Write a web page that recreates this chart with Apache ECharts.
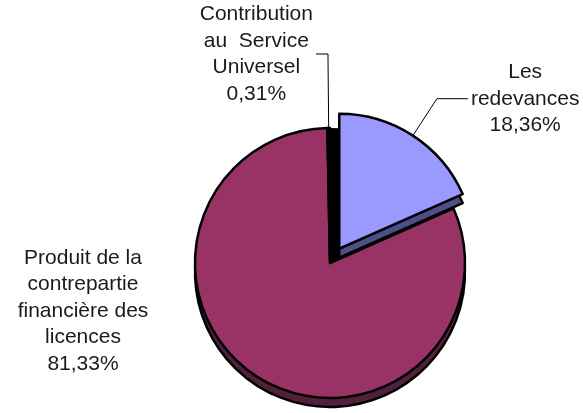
<!DOCTYPE html>
<html>
<head>
<meta charset="utf-8">
<script src="https://cdn.jsdelivr.net/npm/echarts@6/dist/echarts.min.js"></script>
<style>
  html, body { margin: 0; padding: 0; background: #fff; }
  #chart { width: 583px; height: 413px; }
</style>
</head>
<body>
<div id="chart"></div>
<script>
// données du graphique
const names = ['Les\nredevances', 'Produit de la\ncontrepartie\nfinancière des\nlicences', 'Contribution\nau  Service\nUniversel']
const values = [18.36, 81.33, 0.31]
const topColors = ['#9999ff', '#993366', '#000000']
const sideColors = ['#4d5088', '#51203a', '#000000']
const gapColors = ['#000000', 'rgba(0,0,0,0)', 'rgba(0,0,0,0)']

const chart = echarts.init(document.getElementById('chart'))

const pct = v => v.toFixed(2).replace('.', ',') + '%'

const makeData = (colors, withLabels, exploded) => names.map((n, i) => {
  const item = {
    name: n,
    value: values[i],
    itemStyle: { color: colors[i] }
  }
  if (i === 0 && exploded) item.selected = true
  if (withLabels) {
    if (i === 0) item.labelLine = { length: 44, length2: 31 }
    if (i === 1) item.labelLine = { show: false }
    if (i === 2) item.labelLine = { length: 74, length2: 12 }
  }
  return item
})

const common = {
  type: 'pie',
  radius: 135,
  startAngle: 90,
  clockwise: true,
  selectedMode: 'single',
  selectedOffset: 17,
  avoidLabelOverlap: false,
  silent: true,
  label: { show: false },
  labelLine: { show: false },
  itemStyle: { borderColor: '#000', borderWidth: 2.5 }
}

chart.setOption({
  animation: false,
  series: [
    // fond noir sous la part détachée
    Object.assign({}, common, {
      center: [330, 263],
      itemStyle: { borderWidth: 0 },
      data: makeData(gapColors, false, false)
    }),
    // épaisseur (effet 3D)
    Object.assign({}, common, {
      center: [330, 272],
      data: makeData(sideColors, false, true)
    }),
    // face supérieure
    Object.assign({}, common, {
      center: [330, 263],
      label: {
        show: true,
        position: 'outside',
        color: '#1a1a1a',
        fontFamily: 'Liberation Sans, Arial, sans-serif',
        fontSize: 21,
        lineHeight: 26.5,
        distanceToLabelLine: 3,
        formatter: p => p.name.split('\n').map(s => '{c|' + s + '}').join('\n') + '\n{c|' + pct(p.value) + '}',
        rich: {
          c: {
            align: 'center',
            color: '#1a1a1a',
            fontFamily: 'Liberation Sans, Arial, sans-serif',
            fontSize: 21,
            lineHeight: 26.5
          }
        }
      },
      labelLine: {
        show: true,
        lineStyle: { color: '#000', width: 1 }
      },
      labelLayout: p => {
        if (p.dataIndex === 1) {
          return { x: 83, y: 311, align: 'center', verticalAlign: 'middle' }
        }
      },
      data: makeData(topColors, true, true)
    })
  ]
})
</script>
</body>
</html>
